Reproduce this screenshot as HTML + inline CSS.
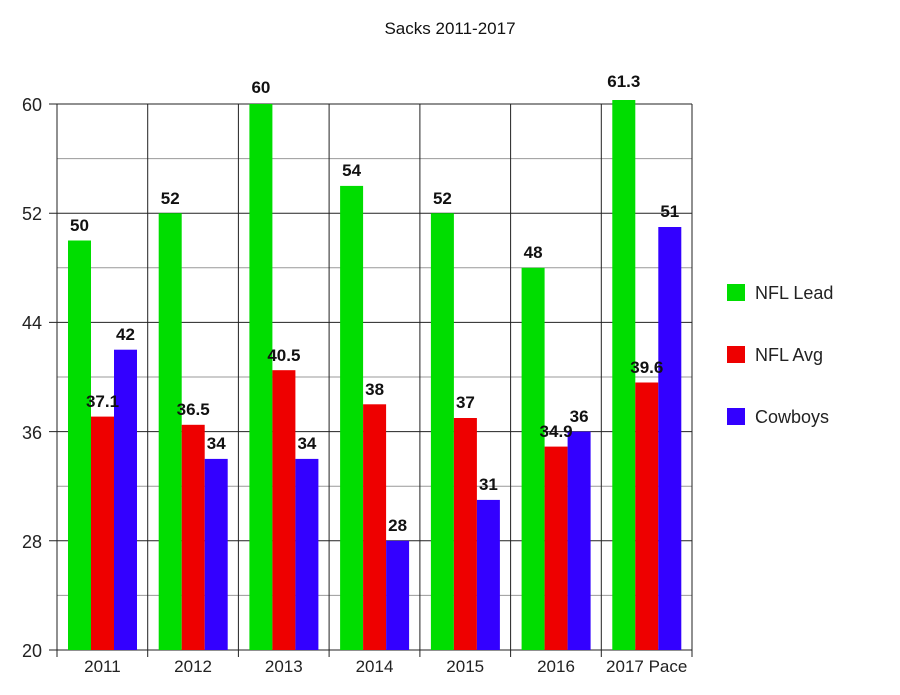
<!DOCTYPE html>
<html><head><meta charset="utf-8"><style>body{margin:0;background:#fff}svg{display:block}text{font-family:"Liberation Sans",sans-serif}</style></head><body>
<svg width="900" height="695" xmlns="http://www.w3.org/2000/svg">
<text x="450" y="34" font-size="17" text-anchor="middle" fill="#111">Sacks 2011-2017</text>
<g stroke="#999">
<line x1="57" x2="692" y1="595.4" y2="595.4"/><line x1="57" x2="692" y1="486.2" y2="486.2"/><line x1="57" x2="692" y1="377" y2="377"/><line x1="57" x2="692" y1="267.8" y2="267.8"/><line x1="57" x2="692" y1="158.6" y2="158.6"/>
</g>
<g stroke="#222">
<line x1="49" x2="692" y1="650" y2="650"/><line x1="49" x2="692" y1="540.8" y2="540.8"/><line x1="49" x2="692" y1="431.6" y2="431.6"/><line x1="49" x2="692" y1="322.4" y2="322.4"/><line x1="49" x2="692" y1="213.2" y2="213.2"/><line x1="49" x2="692" y1="104" y2="104"/>
<line x1="57" x2="57" y1="104" y2="657"/><line x1="147.7" x2="147.7" y1="104" y2="657"/><line x1="238.4" x2="238.4" y1="104" y2="657"/><line x1="329.1" x2="329.1" y1="104" y2="657"/><line x1="419.9" x2="419.9" y1="104" y2="657"/><line x1="510.6" x2="510.6" y1="104" y2="657"/><line x1="601.3" x2="601.3" y1="104" y2="657"/><line x1="692" x2="692" y1="104" y2="657"/>
</g>
<g font-size="18" text-anchor="end" fill="#222">
<text x="42" y="657">20</text><text x="42" y="548">28</text><text x="42" y="439">36</text><text x="42" y="329">44</text><text x="42" y="220">52</text><text x="42" y="111">60</text>
</g>
<g>
<rect x="68" y="240.5" width="23" height="409.5" fill="#00dd00"/><rect x="91" y="416.6" width="23" height="233.4" fill="#ee0000"/><rect x="114" y="349.7" width="23" height="300.3" fill="#3300ff"/>
<rect x="158.7" y="213.2" width="23" height="436.8" fill="#00dd00"/><rect x="181.7" y="424.8" width="23" height="225.2" fill="#ee0000"/><rect x="204.7" y="458.9" width="23" height="191.1" fill="#3300ff"/>
<rect x="249.4" y="104" width="23" height="546" fill="#00dd00"/><rect x="272.4" y="370.2" width="23" height="279.8" fill="#ee0000"/><rect x="295.4" y="458.9" width="23" height="191.1" fill="#3300ff"/>
<rect x="340.1" y="185.9" width="23" height="464.1" fill="#00dd00"/><rect x="363.1" y="404.3" width="23" height="245.7" fill="#ee0000"/><rect x="386.1" y="540.8" width="23" height="109.2" fill="#3300ff"/>
<rect x="430.9" y="213.2" width="23" height="436.8" fill="#00dd00"/><rect x="453.9" y="418" width="23" height="232" fill="#ee0000"/><rect x="476.9" y="499.9" width="23" height="150.1" fill="#3300ff"/>
<rect x="521.6" y="267.8" width="23" height="382.2" fill="#00dd00"/><rect x="544.6" y="446.6" width="23" height="203.4" fill="#ee0000"/><rect x="567.6" y="431.6" width="23" height="218.4" fill="#3300ff"/>
<rect x="612.3" y="100" width="23" height="550" fill="#00dd00"/><rect x="635.3" y="382.5" width="23" height="267.5" fill="#ee0000"/><rect x="658.3" y="227" width="23" height="423" fill="#3300ff"/>
</g>
<g font-size="17" font-weight="bold" text-anchor="middle" fill="#111">
<text x="79.5" y="231">50</text><text x="102.5" y="407">37.1</text><text x="125.5" y="340">42</text>
<text x="170.2" y="204">52</text><text x="193.2" y="415">36.5</text><text x="216.2" y="449">34</text>
<text x="260.9" y="93">60</text><text x="283.9" y="361">40.5</text><text x="306.9" y="449">34</text>
<text x="351.6" y="176">54</text><text x="374.6" y="395">38</text><text x="397.6" y="531">28</text>
<text x="442.4" y="204">52</text><text x="465.4" y="408">37</text><text x="488.4" y="490">31</text>
<text x="533.1" y="258">48</text><text x="556.1" y="437">34.9</text><text x="579.1" y="422">36</text>
<text x="623.8" y="87">61.3</text><text x="646.8" y="373">39.6</text><text x="669.8" y="217">51</text>
</g>
<g font-size="17" text-anchor="middle" fill="#222">
<text x="102.4" y="672">2011</text><text x="193.1" y="672">2012</text><text x="283.8" y="672">2013</text><text x="374.5" y="672">2014</text><text x="465.2" y="672">2015</text><text x="556" y="672">2016</text><text x="646.7" y="672">2017 Pace</text>
</g>
<rect x="727" y="284" width="18" height="17" fill="#00dd00"/><text x="755" y="299" font-size="18" fill="#222">NFL Lead</text>
<rect x="727" y="346" width="18" height="17" fill="#ee0000"/><text x="755" y="361" font-size="18" fill="#222">NFL Avg</text>
<rect x="727" y="408" width="18" height="17" fill="#3300ff"/><text x="755" y="423" font-size="18" fill="#222">Cowboys</text>
</svg>
</body></html>
